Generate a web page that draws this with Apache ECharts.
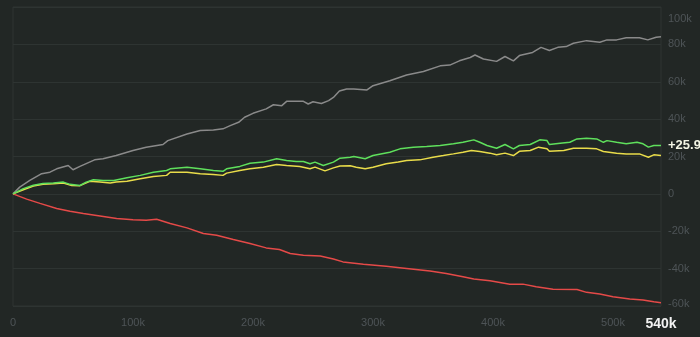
<!DOCTYPE html>
<html>
<head>
<meta charset="utf-8">
<script src="https://cdn.jsdelivr.net/npm/echarts@6/dist/echarts.min.js"></script>
<style>
html,body{margin:0;padding:0;background:#222725;}
#c{width:700px;height:337px;}
</style>
</head>
<body>
<div id="c"></div>
<script>
// x values in thousands, y values in thousands
const grayX = [0,5.6,14,23.9,30.8,36.4,46,50,55.8,68,75,86,100,111,125,129,145,156,167,175,181,188,193,200,211,217,224,228,242,246,250,257,263,267,272,278,284,295,300,314,328,342,356,364,372,381,385,392,403,410,417,422,433,440,447,454,461,467,478,489,495,503,511,522,529,536,540];
const grayY = [0,3.6,7.2,10.8,11.6,13.4,15.2,12.9,14.7,18.2,18.8,20.5,23.2,25,26.4,28.5,32,33.9,34.2,34.8,36.5,38.3,41,43.1,45.5,47.7,47.2,49.5,49.5,48.1,49.3,48.4,49.9,51.6,55,56.1,56.1,55.6,57.9,60.5,63.6,65.5,68.5,68.9,71.2,73,74.3,72.2,70.9,73.5,71.2,74,75.7,78.4,76.7,78.4,78.8,80.6,82,81.1,82.4,82.4,83.5,83.5,82.4,83.8,84.1];

const greenX = [0,8.6,17,25,33.6,42,47.5,55.8,61,67,75,84,95,106,117,128,131,145,156,167,175,178,189,197.5,208.6,219.7,228,236,242,247.5,251.7,258.6,267,272.5,281,284,293.5,300,314,322.5,333.6,344.7,356,367,375,384,389,395,403,410,417,422,431,439,445,447,456,464,470,478,486.4,492,495,503,511,520,525,529.5,534,540];
const greenY = [0,2.8,4.6,5.5,5.8,6.3,5.1,4.5,6.3,7.6,7.2,7.2,8.6,9.9,11.6,12.5,13.4,14.3,13.4,12.5,12.1,13.4,14.7,16.4,17,18.8,17.9,17.3,17.3,16.1,17,15.2,17,19.1,19.6,20,18.8,20.5,22.3,24.1,25,25.3,25.9,26.8,27.6,28.9,27.6,25.9,24.4,26.4,24.1,25.9,26.4,28.9,28.5,26.4,27.1,27.6,29.4,29.8,29.4,27.6,28.5,27.6,26.8,27.6,26.8,25,25.9,25.9];

const yellowX = [0,8.6,17,25,33.6,42,49,55.8,64,72.5,81,86,95,106,117,128,131,145,156,167,175,178,189,197.5,208.6,219.7,228,239,247.5,251.7,260,267,272.5,281,286,293.5,300,311,321,328,339,350,358.6,367,375,382,389,397.5,403,410,417,422,431,438,445,447,459,467,478,486.4,492,503,511,522,529.5,534,540];
const yellowY = [0,2.2,4.2,5.1,5.4,5.8,4.5,4.4,6.7,6.3,5.8,6.3,6.8,8.1,9.3,9.9,11.6,11.6,10.8,10.4,9.9,11.1,12.5,13.4,14.3,15.7,15.2,14.7,13.4,14.3,12.3,13.9,14.9,15,14.3,13.4,14.3,16.1,17,17.9,18.2,19.6,20.5,21.4,22.3,23.2,22.7,21.8,20.9,21.8,20.5,22.8,23.2,25,24.1,22.8,23.2,24.4,24.4,24.1,22.7,21.8,21.4,21.4,19.6,20.9,20.5];

const redX = [0,11.4,22.5,36.4,47.5,58.6,72.5,86.4,100,111,119.7,131,145,158.6,169.7,183.6,197.5,211,222,231,242,256,267,275,292,311,328,347.5,361,375,384,397.5,414,425,436,450,470,478,489,500,514,525,534,540];
const redY = [0,-2.8,-5.1,-7.8,-9.3,-10.5,-11.8,-13.2,-13.8,-14.1,-13.6,-15.9,-18.2,-21.2,-22.1,-24.4,-26.6,-28.9,-29.8,-31.9,-32.8,-33.3,-34.9,-36.4,-37.6,-38.7,-39.9,-41.3,-42.6,-44.4,-45.6,-46.5,-48.3,-48.3,-49.7,-51,-51.2,-52.7,-53.6,-55,-56.3,-56.8,-57.7,-58.2];

const xMin = 0, xMax = 540, xStep = 100;
const yMin = -60, yMax = 100, yStep = 20;

function zip(xs, ys){ return xs.map((x,i)=>[x, ys[i]]); }
function kfmt(v){ return v === 0 ? '0' : v + 'k'; }

const FONT = 'Arial, "Liberation Sans", sans-serif';
const chart = echarts.init(document.getElementById('c'), null, {renderer:'canvas'});

function line(name, xs, ys, color, extra){
  return Object.assign({
    name, type:'line', data: zip(xs, ys), showSymbol:false, symbol:'none',
    lineStyle:{color, width:1.5}, itemStyle:{color}, animation:false, z:2
  }, extra || {});
}

chart.setOption({
  backgroundColor:'#222725',
  animation:false,
  grid:{left:13, right:39, top:7, bottom:31, show:true, borderColor:'#2e3432', borderWidth:1},
  xAxis:{
    type:'value', min:xMin, max:xMax, interval:xStep,
    axisLine:{show:false}, axisTick:{show:false}, splitLine:{show:false},
    axisLabel:{
      color:'#4e5457', fontSize:11, fontFamily:FONT, margin:11,
      formatter:(v)=> v === xMax ? '{b|' + kfmt(v) + '}' : kfmt(v),
      rich:{b:{color:'#f2f2f2', fontWeight:'bold', fontSize:14, fontFamily:FONT}}
    }
  },
  yAxis:{
    type:'value', position:'right', min:yMin, max:yMax, interval:yStep,
    axisLine:{show:false}, axisTick:{show:false},
    splitLine:{lineStyle:{color:'#2e3432', width:1}},
    axisLabel:{
      color:'#4e5457', fontSize:11, fontFamily:FONT, margin:7, align:'left',
      formatter:(v)=> v === yMax ? '{t|' + kfmt(v) + '}' : (v === yMin ? '{m|' + kfmt(v) + '}' : kfmt(v)),
      rich:{
        t:{color:'#4e5457', fontSize:11, fontFamily:FONT, padding:[23,0,0,0]},
        m:{color:'#4e5457', fontSize:11, fontFamily:FONT, padding:[0,0,5,0]}
      }
    }
  },
  series:[
    line('gray', grayX, grayY, '#8a8a8a'),
    line('red', redX, redY, '#e54a48'),
    line('yellow', yellowX, yellowY, '#e9dc4a'),
    line('green', greenX, greenY, '#5fe05c', {
      z:3,
      endLabel:{show:true, distance:7, color:'#f3f5e4', fontWeight:'bold', fontSize:13, fontFamily:FONT,
        formatter:(p)=> '+' + p.value[1].toFixed(1)}
    })
  ]
});
</script>
</body>
</html>
